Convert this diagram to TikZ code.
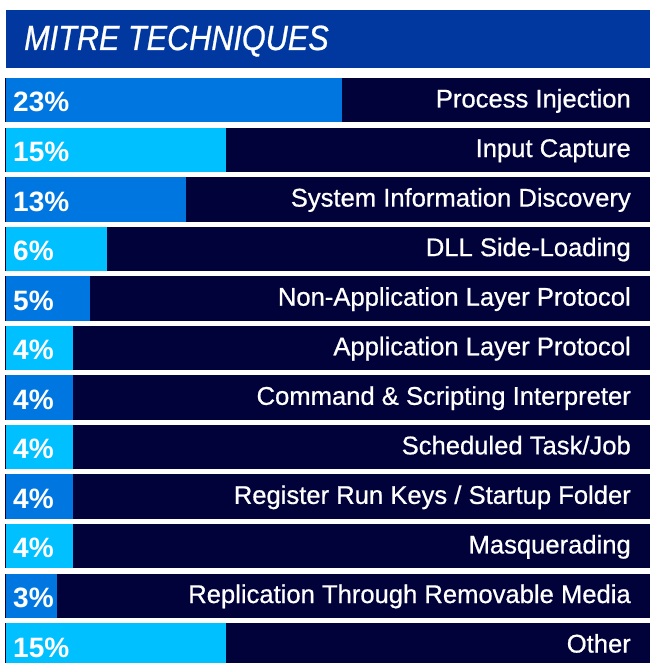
\documentclass[tikz,border=0pt]{standalone}
\usepackage{fontspec}
\usepackage{graphicx}
\setmainfont{Liberation Sans}
\newfontface\medface{Liberation Sans}[FakeBold=0.7]
\newfontface\meditface{Liberation Sans Italic}[FakeBold=0.8]
\definecolor{titleblue}{RGB}{0,56,160}
\definecolor{navybar}{RGB}{2,2,58}
\definecolor{midblue}{RGB}{0,119,224}
\definecolor{skyblue}{RGB}{0,192,255}
\newcommand{\mitrerow}[5]{%
  \pgfmathsetmacro{\rtop}{78+49.55*(#1-1)}%
  \fill[navybar] (5,\rtop) rectangle (650,\rtop+44.5);
  \fill[#3] (6,\rtop) rectangle (#2,\rtop+44.5);
  \node[pctlabel] (p#1) at (13,\rtop+34) {#4\%};
  \node[techlabel] (l#1) at (631,\rtop+29.5) {#5};
}
\begin{document}
\begin{tikzpicture}[x=1pt,y=-1pt,
  techlabel/.style={anchor=base east, text=white, font=\medface\fontsize{25.6}{26}\selectfont, inner sep=0pt},
  pctlabel/.style={anchor=base west, text=white, font=\bfseries\fontsize{28}{28}\selectfont, inner sep=0pt}]
\useasboundingbox (0,0) rectangle (650,663);
\fill[white] (0,0) rectangle (650,663);
\fill[titleblue] (6,10) rectangle (650,68);
\node[anchor=base west, text=white, inner sep=0pt] (title) at (24,50)
  {\scalebox{0.875}[1]{\meditface\fontsize{35}{35}\selectfont MITRE TECHNIQUES}};
\mitrerow{1}{342}{midblue}{23}{Process Injection}
\mitrerow{2}{226}{skyblue}{15}{Input Capture}
\mitrerow{3}{186}{midblue}{13}{System Information Discovery}
\mitrerow{4}{107}{skyblue}{6}{DLL Side-Loading}
\mitrerow{5}{90}{midblue}{5}{Non-Application Layer Protocol}
\mitrerow{6}{73}{skyblue}{4}{Application Layer Protocol}
\mitrerow{7}{73}{midblue}{4}{Command \& Scripting Interpreter}
\mitrerow{8}{73}{skyblue}{4}{Scheduled Task/Job}
\mitrerow{9}{73}{midblue}{4}{Register Run Keys / Startup Folder}
\mitrerow{10}{73}{skyblue}{4}{Masquerading}
\mitrerow{11}{57}{midblue}{3}{Replication Through Removable Media}
\mitrerow{12}{226}{skyblue}{15}{Other}
\end{tikzpicture}
\end{document}
